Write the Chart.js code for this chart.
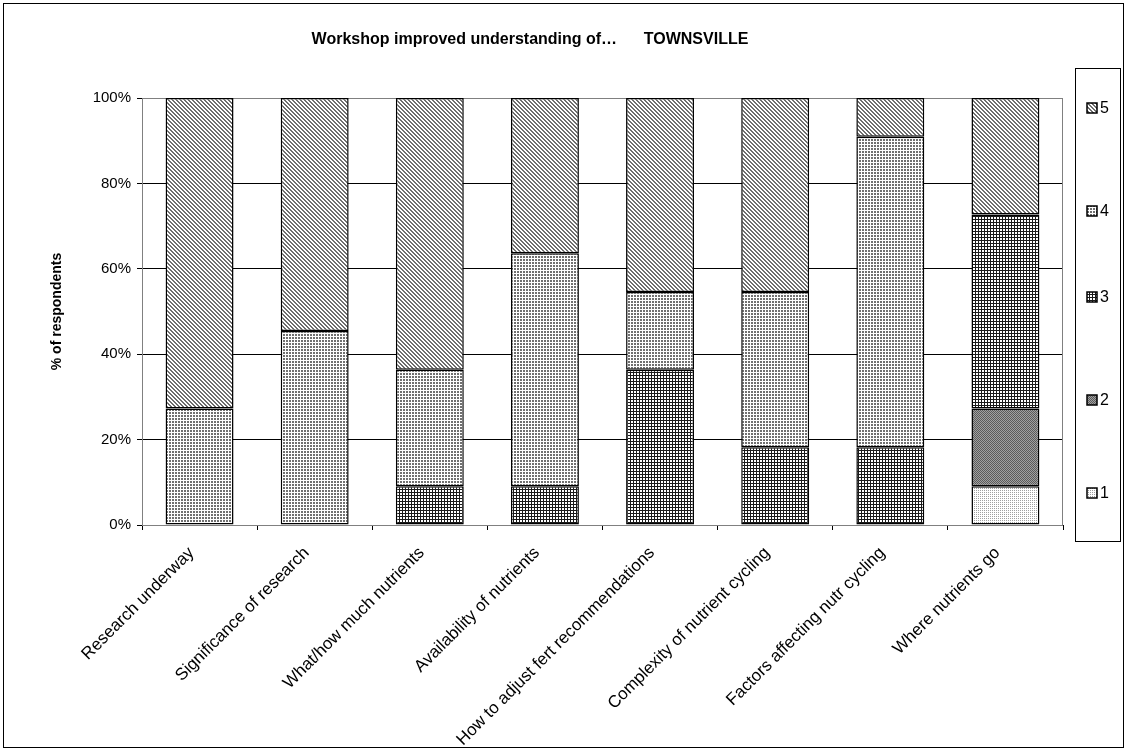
<!DOCTYPE html>
<html>
<head>
<meta charset="utf-8">
<script src="https://cdn.jsdelivr.net/npm/chart.js@4.4.0/dist/chart.umd.min.js"></script>
<style>
  html, body { margin: 0; padding: 0; background: #fff; }
  #wrap { position: relative; width: 1127px; height: 751px; }
</style>
</head>
<body>
<div id="wrap"><canvas id="chart" width="1127" height="751"></canvas></div>
<script>
// Workshop survey, Townsville - stacked % of respondents by rating (1-5)
const categories = [
  'Research underway',
  'Significance of research',
  'What/how much nutrients',
  'Availability of nutrients',
  'How to adjust fert recommendations',
  'Complexity of nutrient cycling',
  'Factors affecting nutr cycling',
  'Where nutrients go'
];

// 11 respondents, so values are multiples of 9.09%
const rating1 = [0, 0, 0, 0, 0, 0, 0, 9.09];
const rating2 = [0, 0, 0, 0, 0, 0, 0, 18.18];
const rating3 = [0, 0, 9.09, 9.09, 36.36, 18.18, 18.18, 45.45];
const rating4 = [27.27, 45.45, 27.27, 54.55, 18.18, 36.36, 72.73, 0];
const rating5 = [72.73, 54.55, 63.64, 36.36, 45.45, 45.45, 9.09, 27.27];

const legendLabels = ['1', '2', '3', '4', '5'];
const yTicks = [0, 20, 40, 60, 80, 100];

const FONT = "'Liberation Sans', Arial, sans-serif";

// small pixel tiles to mimic the old Excel fill patterns
function makePattern(w, h, pick) {
  const c = document.createElement('canvas');
  c.width = w; c.height = h;
  const g = c.getContext('2d');
  for (let y = 0; y < h; y++) {
    for (let x = 0; x < w; x++) {
      g.fillStyle = pick(x, y);
      g.fillRect(x, y, 1, 1);
    }
  }
  return document.getElementById('chart').getContext('2d').createPattern(c, 'repeat');
}

const pat1 = makePattern(2, 2, (x, y) => (x === 0 && y === 0) ? '#a0a0a0' : '#ffffff');
const pat2 = makePattern(2, 2, (x, y) => ((x + y) % 2 === 0) ? '#5a5a5a' : '#a0a0a0');
const pat3 = makePattern(3, 3, (x, y) => (x === 0 || y === 0) ? '#1a1a1a' : '#ffffff');
const pat4 = makePattern(3, 3, (x, y) => (x === 0 || y === 0) ? '#ffffff' : '#707070');
const pat5 = makePattern(4, 4, (x, y) => (((x - y + 8) % 4) < 2) ? '#6e6e6e' : '#ffffff');

const patterns = [pat1, pat2, pat3, pat4, pat5];
const series = [rating1, rating2, rating3, rating4, rating5];

const decorPlugin = {
  id: 'decor',
  beforeDatasetsDraw(chart) {
    const { ctx, chartArea: a } = chart;
    ctx.save();
    ctx.strokeStyle = '#808080';
    ctx.lineWidth = 1;
    ctx.strokeRect(Math.round(a.left) + 0.5, Math.round(a.top) + 0.5,
      Math.round(a.right - a.left) - 1, Math.round(a.bottom - a.top));
    ctx.restore();
  },
  afterDraw(chart) {
    const ctx = chart.ctx;
    ctx.save();
    // outer frame
    ctx.strokeStyle = '#000';
    ctx.lineWidth = 1;
    ctx.strokeRect(3.5, 3.5, 1120, 744);

    // title
    ctx.fillStyle = '#000';
    ctx.font = 'bold 16px ' + FONT;
    ctx.textAlign = 'center';
    ctx.textBaseline = 'alphabetic';
    ctx.fillText('Workshop improved understanding of\u2026      TOWNSVILLE', 530, 44);

    // legend box
    ctx.strokeStyle = '#000';
    ctx.strokeRect(1075.5, 68.5, 45, 473);
    const ys = [493, 400, 297, 211, 108];
    ctx.font = '16px ' + FONT;
    ctx.textAlign = 'left';
    ctx.textBaseline = 'middle';
    for (let i = 4; i >= 0; i--) {
      const y = ys[i];
      ctx.fillStyle = patterns[i];
      ctx.fillRect(1087, y - 5, 10, 10);
      ctx.strokeStyle = '#000';
      ctx.lineWidth = 1.5;
      ctx.strokeRect(1087, y - 5, 10, 10);
      ctx.fillStyle = '#000';
      ctx.fillText(legendLabels[i], 1100, y + 1);
    }
    ctx.restore();
  }
};

new Chart(document.getElementById('chart'), {
  type: 'bar',
  data: {
    labels: categories,
    datasets: series.map((d, i) => ({
      label: legendLabels[i],
      data: d,
      backgroundColor: patterns[i],
      borderColor: '#000',
      borderWidth: 1.5,
      borderSkipped: false,
      categoryPercentage: 1,
      barPercentage: 0.59
    }))
  },
  options: {
    responsive: false,
    animation: false,
    layout: { padding: { top: 98, right: 64, bottom: 0, left: 0 } },
    plugins: {
      legend: { display: false },
      title: { display: false },
      tooltip: { enabled: false }
    },
    scales: {
      x: {
        stacked: true,
        grid: { offset: true, drawOnChartArea: false, drawTicks: true, tickLength: 5, color: '#000' },
        border: { color: '#000', width: 1 },
        ticks: {
          autoSkip: false, maxRotation: 45, minRotation: 45, padding: 13, labelOffset: -8,
          color: '#000', font: { family: FONT, size: 17 }
        },
        afterFit(s) { s.height = 751 - 525; }
      },
      y: {
        stacked: true,
        min: 0,
        max: 100,
        afterBuildTicks(s) { s.ticks = yTicks.map(v => ({ value: v })); },
        ticks: {
          callback: v => v + '%',
          padding: 6,
          color: '#000',
          font: { family: FONT, size: 15 }
        },
        grid: {
          color: c => (c.tick && c.tick.value === 100) ? '#808080' : '#000',
          tickColor: '#000',
          tickLength: 5
        },
        border: { color: '#000', width: 1 },
        title: {
          display: true,
          text: '% of respondents',
          color: '#000',
          font: { family: FONT, size: 14, weight: 'bold' },
          padding: { top: 49, bottom: 0 }
        },
        afterFit(s) { s.width = 142; }
      }
    }
  },
  plugins: [decorPlugin]
});
</script>
</body>
</html>
